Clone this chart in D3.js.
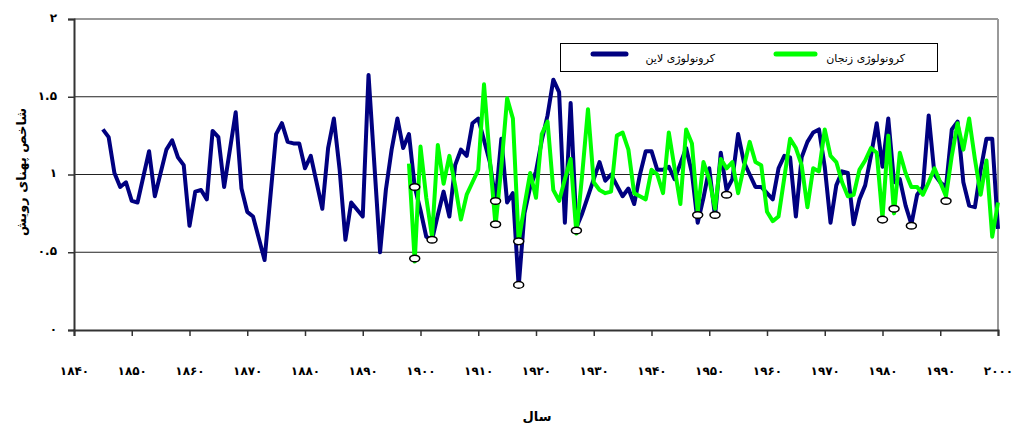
<!DOCTYPE html>
<html>
<head>
<meta charset="utf-8">
<script src="https://cdn.jsdelivr.net/npm/d3@7"></script>
<style>
	body { margin: 0; background: #fff; }
	svg { display: block; font-family: 'DejaVu Sans', sans-serif; }
</style>
</head>
<body>
<svg id="chart"></svg>
<script>
// series: کرونولوژی لاین (navy)
const lineYears = [1845, 1846, 1847, 1848, 1849, 1850, 1851, 1853, 1854, 1856, 1857, 1858, 1859, 1860, 1861, 1862, 1863, 1864, 1865, 1866, 1868, 1869, 1870, 1871, 1873, 1875, 1876, 1877, 1878, 1879, 1880, 1881, 1883, 1884, 1885, 1886, 1887, 1888, 1890, 1891, 1893, 1894, 1895, 1896, 1897, 1898, 1899, 1900, 1901, 1902, 1903, 1904, 1905, 1906, 1907, 1908, 1909, 1910, 1911, 1912, 1913, 1914, 1915, 1916, 1917, 1918, 1919, 1920, 1921, 1922, 1923, 1924, 1925, 1926, 1927, 1928, 1929, 1930, 1931, 1932, 1933, 1934, 1935, 1936, 1937, 1938, 1939, 1940, 1941, 1942, 1943, 1944, 1945, 1946, 1947, 1948, 1949, 1950, 1951, 1952, 1953, 1954, 1955, 1956, 1957, 1958, 1959, 1960, 1961, 1962, 1963, 1964, 1965, 1966, 1967, 1968, 1969, 1970, 1971, 1972, 1973, 1974, 1975, 1976, 1977, 1978, 1979, 1980, 1981, 1982, 1983, 1984, 1985, 1986, 1987, 1988, 1989, 1990, 1991, 1992, 1993, 1994, 1995, 1996, 1997, 1998, 1999, 2000];
const lineValues = [1.29, 1.24, 1.01, 0.92, 0.95, 0.83, 0.82, 1.15, 0.86, 1.16, 1.22, 1.11, 1.06, 0.67, 0.89, 0.90, 0.84, 1.28, 1.24, 0.92, 1.40, 0.91, 0.76, 0.73, 0.45, 1.26, 1.33, 1.21, 1.20, 1.20, 1.04, 1.12, 0.78, 1.17, 1.36, 1.03, 0.58, 0.82, 0.73, 1.64, 0.50, 0.90, 1.16, 1.36, 1.17, 1.26, 0.92, 0.77, 0.60, 0.58, 0.74, 0.89, 0.73, 1.06, 1.16, 1.12, 1.33, 1.36, 1.22, 1.08, 0.83, 1.23, 0.82, 0.88, 0.28, 0.75, 0.92, 1.02, 1.22, 1.38, 1.61, 1.53, 0.69, 1.46, 0.66, 0.75, 0.86, 0.97, 1.08, 0.96, 1.00, 0.93, 0.86, 0.91, 0.81, 1.00, 1.15, 1.15, 1.03, 1.03, 1.05, 0.97, 1.07, 1.17, 1.01, 0.69, 0.85, 1.04, 0.73, 1.14, 0.90, 0.97, 1.26, 1.08, 1.00, 0.92, 0.92, 0.88, 0.84, 1.04, 1.12, 1.11, 0.73, 1.11, 1.21, 1.27, 1.29, 1.05, 0.69, 0.93, 1.02, 1.01, 0.68, 0.84, 0.93, 1.12, 1.33, 1.05, 1.36, 0.95, 0.97, 0.80, 0.68, 0.87, 0.92, 1.38, 1.00, 0.95, 0.92, 1.29, 1.34, 0.95, 0.80, 0.79, 1.03, 1.23, 1.23, 0.65];

// series: کرونولوژی زنجان (green)
const zanjanYears = [1898, 1899, 1900, 1901, 1902, 1903, 1904, 1905, 1906, 1907, 1908, 1909, 1910, 1911, 1912, 1913, 1914, 1915, 1916, 1917, 1918, 1919, 1920, 1921, 1922, 1923, 1924, 1925, 1926, 1927, 1928, 1929, 1930, 1931, 1932, 1933, 1934, 1935, 1936, 1937, 1938, 1939, 1940, 1941, 1942, 1943, 1944, 1945, 1946, 1947, 1948, 1949, 1950, 1951, 1952, 1953, 1954, 1955, 1956, 1957, 1958, 1959, 1960, 1961, 1962, 1963, 1964, 1965, 1966, 1967, 1968, 1969, 1970, 1971, 1972, 1973, 1974, 1975, 1976, 1977, 1978, 1979, 1980, 1981, 1982, 1983, 1984, 1985, 1986, 1987, 1988, 1989, 1990, 1991, 1992, 1993, 1994, 1995, 1996, 1997, 1998, 1999, 2000];
const zanjanValues = [1.07, 0.44, 1.18, 0.85, 0.60, 1.19, 0.94, 1.12, 0.93, 0.71, 0.87, 0.95, 1.03, 1.58, 1.10, 0.67, 1.05, 1.49, 1.36, 0.57, 0.80, 1.01, 0.85, 1.26, 1.34, 0.90, 0.83, 0.97, 1.10, 0.62, 1.00, 1.42, 0.95, 0.90, 0.88, 0.89, 1.25, 1.27, 1.16, 0.88, 0.86, 0.84, 1.03, 1.00, 0.88, 1.27, 1.04, 0.81, 1.29, 1.20, 0.76, 1.08, 0.97, 0.78, 1.10, 1.04, 1.08, 0.88, 1.05, 1.21, 1.08, 1.06, 0.76, 0.70, 0.73, 0.98, 1.23, 1.17, 1.06, 0.79, 1.04, 1.02, 1.29, 1.12, 1.08, 0.95, 0.86, 0.87, 1.03, 1.09, 1.17, 1.14, 0.72, 1.25, 0.75, 1.14, 1.01, 0.92, 0.92, 0.87, 0.95, 1.04, 0.95, 0.86, 1.12, 1.33, 1.16, 1.36, 1.10, 0.87, 1.09, 0.60, 0.82];

// pointer-year markers (white ovals)
const markerYears = [1899, 1899, 1902, 1913, 1913, 1917, 1917, 1927, 1948, 1951, 1953, 1980, 1982, 1985, 1991];
const markerValues = [0.92, 0.46, 0.58, 0.83, 0.68, 0.57, 0.29, 0.64, 0.74, 0.74, 0.87, 0.71, 0.78, 0.67, 0.83];

const xTicks = [1840, 1850, 1860, 1870, 1880, 1890, 1900, 1910, 1920, 1930, 1940, 1950, 1960, 1970, 1980, 1990, 2000];
const xTickLabels = ['۱۸۴۰', '۱۸۵۰', '۱۸۶۰', '۱۸۷۰', '۱۸۸۰', '۱۸۹۰', '۱۹۰۰', '۱۹۱۰', '۱۹۲۰', '۱۹۳۰', '۱۹۴۰', '۱۹۵۰', '۱۹۶۰', '۱۹۷۰', '۱۹۸۰', '۱۹۹۰', '۲۰۰۰'];
const yTicks = [0, 0.5, 1, 1.5, 2];
const yTickLabels = ['۰', '۰.۵', '۱', '۱.۵', '۲'];

const seriesNames = ['کرونولوژی لاین', 'کرونولوژی زنجان'];
const seriesColors = ['#000080', '#00ff00'];
const xTitle = 'سال';
const yTitle = 'شاخص پهنای رویش';

const DIMENSION = {
	width: 1015,
	height: 427,
	left: 74,
	right: 998,
	top: 19,
	bottom: 330
};

const svg = d3.select('#chart')
	.attr('width', DIMENSION.width)
	.attr('height', DIMENSION.height);

svg.append('rect')
	.attr('width', DIMENSION.width)
	.attr('height', DIMENSION.height)
	.attr('fill', '#fff');

const xScale = d3.scaleLinear()
	.domain([1840, 2000])
	.range([DIMENSION.left, DIMENSION.right]);
const yScale = d3.scaleLinear()
	.domain([0, 2])
	.range([DIMENSION.bottom, DIMENSION.top]);

// gridlines
svg.append('g')
	.selectAll('line')
	.data(yTicks.filter(v => v > 0 && v < 2))
	.enter().append('line')
	.attr('x1', DIMENSION.left)
	.attr('x2', DIMENSION.right)
	.attr('y1', d => yScale(d))
	.attr('y2', d => yScale(d))
	.attr('stroke', '#222')
	.attr('stroke-width', 1.2);

// plot frame top / right
svg.append('line')
	.attr('x1', DIMENSION.left).attr('x2', DIMENSION.right)
	.attr('y1', DIMENSION.top).attr('y2', DIMENSION.top)
	.attr('stroke', '#999').attr('stroke-width', 2);
svg.append('line')
	.attr('x1', DIMENSION.right).attr('x2', DIMENSION.right)
	.attr('y1', DIMENSION.top).attr('y2', DIMENSION.bottom)
	.attr('stroke', '#999').attr('stroke-width', 2);

// axes
const yAxis = svg.append('g')
	.attr('transform', `translate(${DIMENSION.left},0)`)
	.call(d3.axisLeft(yScale)
		.tickValues(yTicks)
		.tickSize(6)
		.tickPadding(11)
		.tickFormat((d, i) => yTickLabels[i]));

const xAxis = svg.append('g')
	.attr('transform', `translate(0,${DIMENSION.bottom})`)
	.call(d3.axisBottom(xScale)
		.tickValues(xTicks)
		.tickSize(6)
		.tickPadding(30)
		.tickFormat((d, i) => xTickLabels[i]));

for (let ax of [xAxis, yAxis]) {
	ax.select('.domain').attr('stroke', '#333').attr('stroke-width', 2);
	ax.selectAll('.tick line').attr('stroke', '#333').attr('stroke-width', 1.5);
	ax.selectAll('.tick text')
		.attr('fill', '#000')
		.attr('font-family', 'DejaVu Sans')
		.attr('font-weight', 'bold')
		.attr('font-size', 12);
}
xAxis.selectAll('.tick text').attr('letter-spacing', 1.5);
yAxis.selectAll('.tick text').attr('dy', '0.2em').attr('letter-spacing', 1);

// lines
const line = d3.line()
	.x(d => xScale(d[0]))
	.y(d => yScale(d[1]));

const seriesData = [
	d3.zip(lineYears, lineValues),
	d3.zip(zanjanYears, zanjanValues)
];

seriesData.forEach((data, i) => {
	svg.append('path')
		.datum(data)
		.attr('fill', 'none')
		.attr('stroke', seriesColors[i])
		.attr('stroke-width', 4)
		.attr('stroke-linejoin', 'round')
		.attr('d', line);
});

// markers
svg.append('g')
	.selectAll('ellipse')
	.data(d3.zip(markerYears, markerValues))
	.enter().append('ellipse')
	.attr('cx', d => xScale(d[0]))
	.attr('cy', d => yScale(d[1]))
	.attr('rx', 5)
	.attr('ry', 3.3)
	.attr('fill', '#fff')
	.attr('stroke', '#000')
	.attr('stroke-width', 1.5);

// legend
const legend = svg.append('g');
legend.append('rect')
	.attr('x', 560.5).attr('y', 43.5)
	.attr('width', 377).attr('height', 28)
	.attr('fill', '#fff')
	.attr('stroke', '#000')
	.attr('stroke-width', 1);

const legendItems = [
	{ x1: 593, x2: 626, tx: 715 },
	{ x1: 776, x2: 815, tx: 905 }
];
legendItems.forEach((it, i) => {
	legend.append('line')
		.attr('x1', it.x1).attr('x2', it.x2)
		.attr('y1', 54).attr('y2', 54)
		.attr('stroke', seriesColors[i])
		.attr('stroke-width', 5)
		.attr('stroke-linecap', 'round');
	legend.append('text')
		.attr('x', it.tx).attr('y', 62)
		.attr('text-anchor', 'end')
		.attr('font-size', 11)
		.attr('fill', '#000')
		.text(seriesNames[i]);
});

// axis titles
svg.append('text')
	.attr('x', 537).attr('y', 421)
	.attr('text-anchor', 'middle')
	.attr('font-size', 13)
	.attr('font-weight', 'bold')
	.text(xTitle);

svg.append('text')
	.attr('transform', 'translate(26,172) rotate(-90)')
	.attr('text-anchor', 'middle')
	.attr('font-size', 13)
	.attr('font-weight', 'bold')
	.text(yTitle);
</script>
</body>
</html>
